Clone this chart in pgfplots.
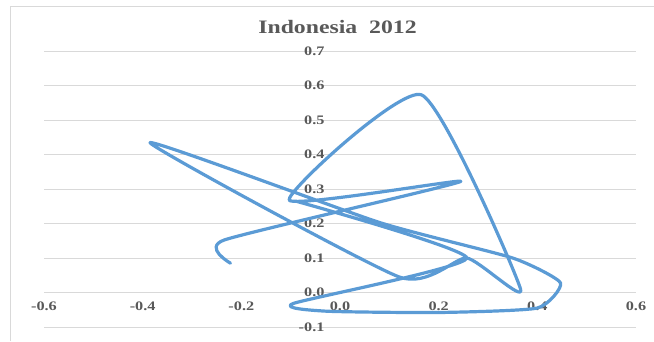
\documentclass[border=0pt]{standalone}
\usepackage{fontspec}
\usepackage{pgfplots}
\pgfplotsset{compat=1.18}
\setmainfont{Liberation Serif}[FakeStretch=1.25]
\definecolor{lineblue}{HTML}{5B9BD5}
\definecolor{gridgray}{HTML}{D9D9D9}
\definecolor{textgray}{HTML}{595959}

\begin{document}
\begin{tikzpicture}
% chart frame (left and top edges)
\draw[gridgray, line width=0.8pt] (10pt,0pt) -- (10pt,335pt) -- (654pt,335pt);
\node[font=\fontsize{19}{22}\selectfont\bfseries, text=textgray] at (337.5pt,314pt) {Indonesia\ \ 2012};
\begin{axis}[
  at={(44pt,14pt)}, anchor=south west,
  width=592pt, height=276pt, scale only axis,
  xmin=-0.6, xmax=0.6, ymin=-0.1, ymax=0.7,
  axis x line=middle, axis y line=middle,
  x axis line style={draw=gridgray, line width=0.8pt, -},
  y axis line style={draw=none, -},
  hide obscured x ticks=false, hide obscured y ticks=false,
  xtick={-0.6,-0.4,-0.2,0,0.2,0.4,0.6},
  xticklabels={-0.6,-0.4,-0.2,0.0,0.2,0.4,0.6},
  ytick={-0.1,0,0.1,0.2,0.3,0.4,0.5,0.6,0.7},
  yticklabels={-0.1,0.0,0.1,0.2,0.3,0.4,0.5,0.6,0.7},
  major tick length=0pt,
  ymajorgrids, grid style={gridgray, line width=0.8pt},
  ticklabel style={font=\fontsize{13}{15}\selectfont\bfseries, text=textgray},
  x tick label style={anchor=north, yshift=-6pt},
  y tick label style={anchor=east, xshift=-12pt},
]
\addplot[lineblue, line width=3.2pt, smooth, tension=0.33, line join=round, line cap=round] coordinates {
  (-0.222, 0.085)
  (-0.235, 0.152)
  ( 0.245, 0.322)
  (-0.103, 0.268)
  ( 0.165, 0.573)
  ( 0.366, 0.010)
  ( 0.257, 0.100)
  ( 0.120, 0.045)
  (-0.385, 0.434)
  ( 0.080, 0.203)
  ( 0.350, 0.100)
  ( 0.447, 0.028)
  ( 0.400,-0.045)
  ( 0.200,-0.058)
  (-0.030,-0.054)
  (-0.095,-0.032)
  ( 0.257, 0.100)
  (-0.090, 0.265)
};
\end{axis}
\pgfresetboundingbox
\path[use as bounding box] (0pt,0pt) rectangle (654pt,341pt);
\end{tikzpicture}
\end{document}
